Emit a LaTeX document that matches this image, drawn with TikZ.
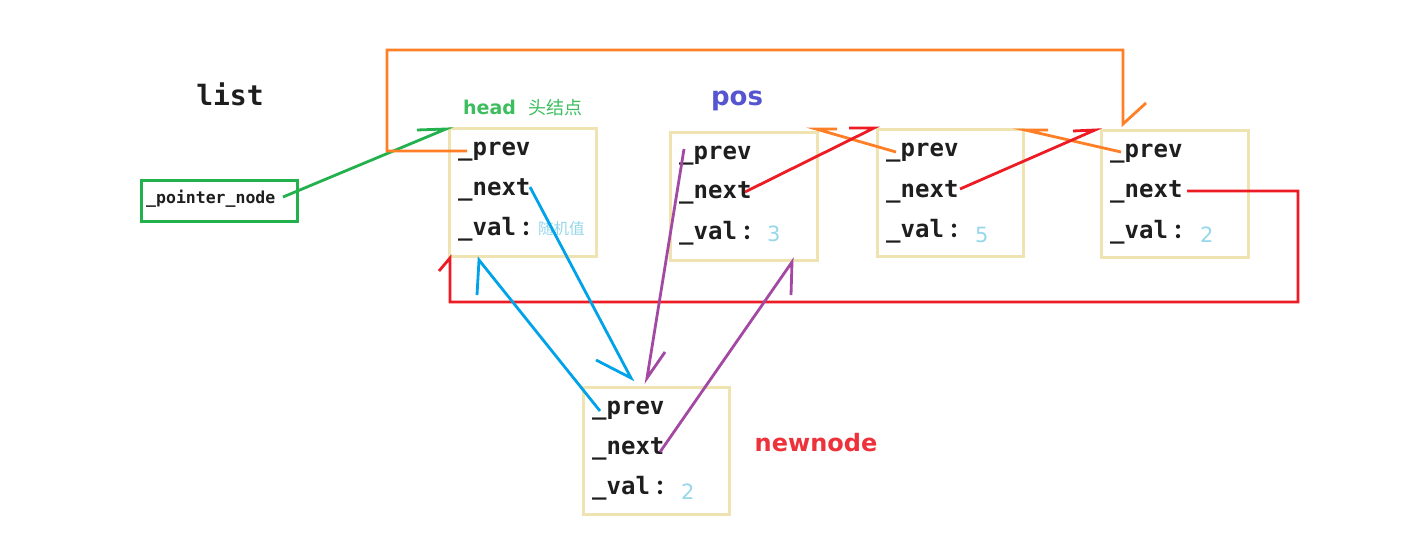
\documentclass[tikz,border=0pt]{standalone}
\usepackage{fontspec}
\setmainfont{DejaVu Sans}
\setmonofont{DejaVu Sans Mono}
\newfontfamily\cjk{Noto Sans CJK SC}
\definecolor{boxc}{RGB}{239,227,178}
\definecolor{pgreen}{RGB}{34,177,76}
\definecolor{porange}{RGB}{255,127,39}
\definecolor{pred}{RGB}{237,28,36}
\definecolor{pblue}{RGB}{0,162,232}
\definecolor{ppurple}{RGB}{163,73,164}
\definecolor{headg}{RGB}{60,190,95}
\definecolor{posc}{RGB}{85,85,210}
\definecolor{newc}{RGB}{238,50,60}
\definecolor{valc}{RGB}{150,215,235}
\definecolor{txt}{RGB}{30,30,30}
\newcommand{\valcolon}{\hspace{5pt}\makebox[8pt][l]{\cjk\fontsize{20}{20}\selectfont ：}}
\begin{document}
\begin{tikzpicture}[x=1pt,y=-1pt,
  nodebox/.style={draw=boxc, line width=3pt, inner sep=0pt, anchor=north west},
  field/.style={anchor=base west, inner sep=0pt, text=txt, font=\fontsize{24}{24}\selectfont\ttfamily\bfseries},
  num/.style={anchor=base west, inner sep=0pt, text=valc, font=\fontsize{21}{21}\selectfont},
  conn/.style={line width=2.8pt, line join=miter},
]
\useasboundingbox[fill=white] (0,0) rectangle (1405,540);

% boxes
\node[nodebox, minimum width=147pt, minimum height=128pt] (head) at (448,127) {};
\node[nodebox, minimum width=147pt, minimum height=128pt] (pos) at (669,131) {};
\node[nodebox, minimum width=146pt, minimum height=127pt] (five) at (876,128) {};
\node[nodebox, minimum width=147pt, minimum height=127pt] (two) at (1100,129) {};
\node[nodebox, minimum width=146pt, minimum height=127pt] (newn) at (582,386) {};
\node[draw=pgreen, line width=2.8pt, anchor=north west, minimum width=156pt, minimum height=41pt, inner sep=0pt] (ptr) at (140,179) {};
\node[anchor=west, inner sep=0pt, text=txt, font=\fontsize{16.5}{16.5}\selectfont\ttfamily\bfseries] (ptrtxt) at (146,199) {\_pointer\_node};

% labels
\node[text=txt, font=\fontsize{28}{28}\selectfont\ttfamily\bfseries] (list) at (230,94) {list};
\node[anchor=west, inner sep=0pt, text=headg, font=\fontsize{19}{19}\selectfont\bfseries] (headlbl) at (463,107) {head};
\node[anchor=west, inner sep=0pt, text=headg, font=\fontsize{18}{18}\selectfont\cjk] (headcn) at (528,108) {头结点};
\node[text=posc, font=\fontsize{26}{26}\selectfont\bfseries] (poslbl) at (737,101) {pos};
\node[text=newc, font=\fontsize{24}{24}\selectfont\bfseries] (newlbl) at (816,443) {newnode};

% fields
\node[field] (hprev) at (458,156) {\_prev};
\node[field] (hnext) at (458,196) {\_next};
\node[field] (hval)  at (458,236) {\_val\valcolon};
\node[anchor=west, inner sep=0pt, text=valc, font=\fontsize{15.5}{15.5}\selectfont\cjk] (hnum) at (538,229) {随机值};

\node[field] (pprev) at (679,160) {\_prev};
\node[field] (pnext) at (679,199) {\_next};
\node[field] (pval)  at (679,239) {\_val\valcolon};
\node[num] (pnum) at (767,241) {3};

\node[field] (fprev) at (886,157) {\_prev};
\node[field] (fnext) at (886,197) {\_next};
\node[field] (fval)  at (886,237) {\_val\valcolon};
\node[num] (fnum) at (975,242) {5};

\node[field] (tprev) at (1110,158) {\_prev};
\node[field] (tnext) at (1110,198) {\_next};
\node[field] (tval)  at (1110,238) {\_val\valcolon};
\node[num] (tnum) at (1200,242) {2};

\node[field] (nprev) at (592,414) {\_prev};
\node[field] (nnext) at (592,454) {\_next};
\node[field] (nval)  at (592,494) {\_val\valcolon};
\node[num] (nnum) at (681,499) {2};

% connector end points
\coordinate (gs) at (283,197);
\coordinate (gt) at (446,129);
\coordinate (o1s) at (467,151);
\coordinate (o1t) at (1123,124);
\coordinate (o2s) at (896,152);
\coordinate (o2t) at (816,129);
\coordinate (o3s) at (1121,152);
\coordinate (o3t) at (1025,130);
\coordinate (r1s) at (745,192);
\coordinate (r1t) at (874,128);
\coordinate (r2s) at (960,189);
\coordinate (r2t) at (1095,130);
\coordinate (r3s) at (1187,191);
\coordinate (r3t) at (450,258);
\coordinate (b1s) at (530,187);
\coordinate (b1t) at (631,378);
\coordinate (b2s) at (600,411);
\coordinate (b2t) at (479,260);
\coordinate (p1s) at (684,149);
\coordinate (p1t) at (647,378);
\coordinate (p2s) at (660,452);
\coordinate (p2t) at (792,262);

% green
\draw[conn, pgreen] (gs) -- (gt) -- ++(-29,1);
% orange
\draw[conn, porange] (o1s) -- (387,151) -- (387,50) -- (1123,50) -- (o1t) -- ++(23,-21);
\draw[conn, porange] (o2s) -- (o2t) -- ++(21,0);
\draw[conn, porange] (o3s) -- (o3t) -- ++(23,0);
% red
\draw[conn, pred] (r1s) -- (r1t) -- ++(-25,0);
\draw[conn, pred] (r2s) -- (r2t) -- ++(-22,1);
\draw[conn, pred] (r3s) -- (1298,191) -- (1298,302) -- (450,302) -- (r3t) -- ++(-11,13);
% blue
\draw[conn, pblue] (b1s) -- (b1t) -- ++(-35,-18);
\draw[conn, pblue] (b2s) -- (b2t) -- ++(-2,35);
% purple
\draw[conn, ppurple] (p1s) -- (p1t) -- ++(18,-26);
\draw[conn, ppurple] (p2s) -- (p2t) -- ++(-1,33);
\end{tikzpicture}
\end{document}
